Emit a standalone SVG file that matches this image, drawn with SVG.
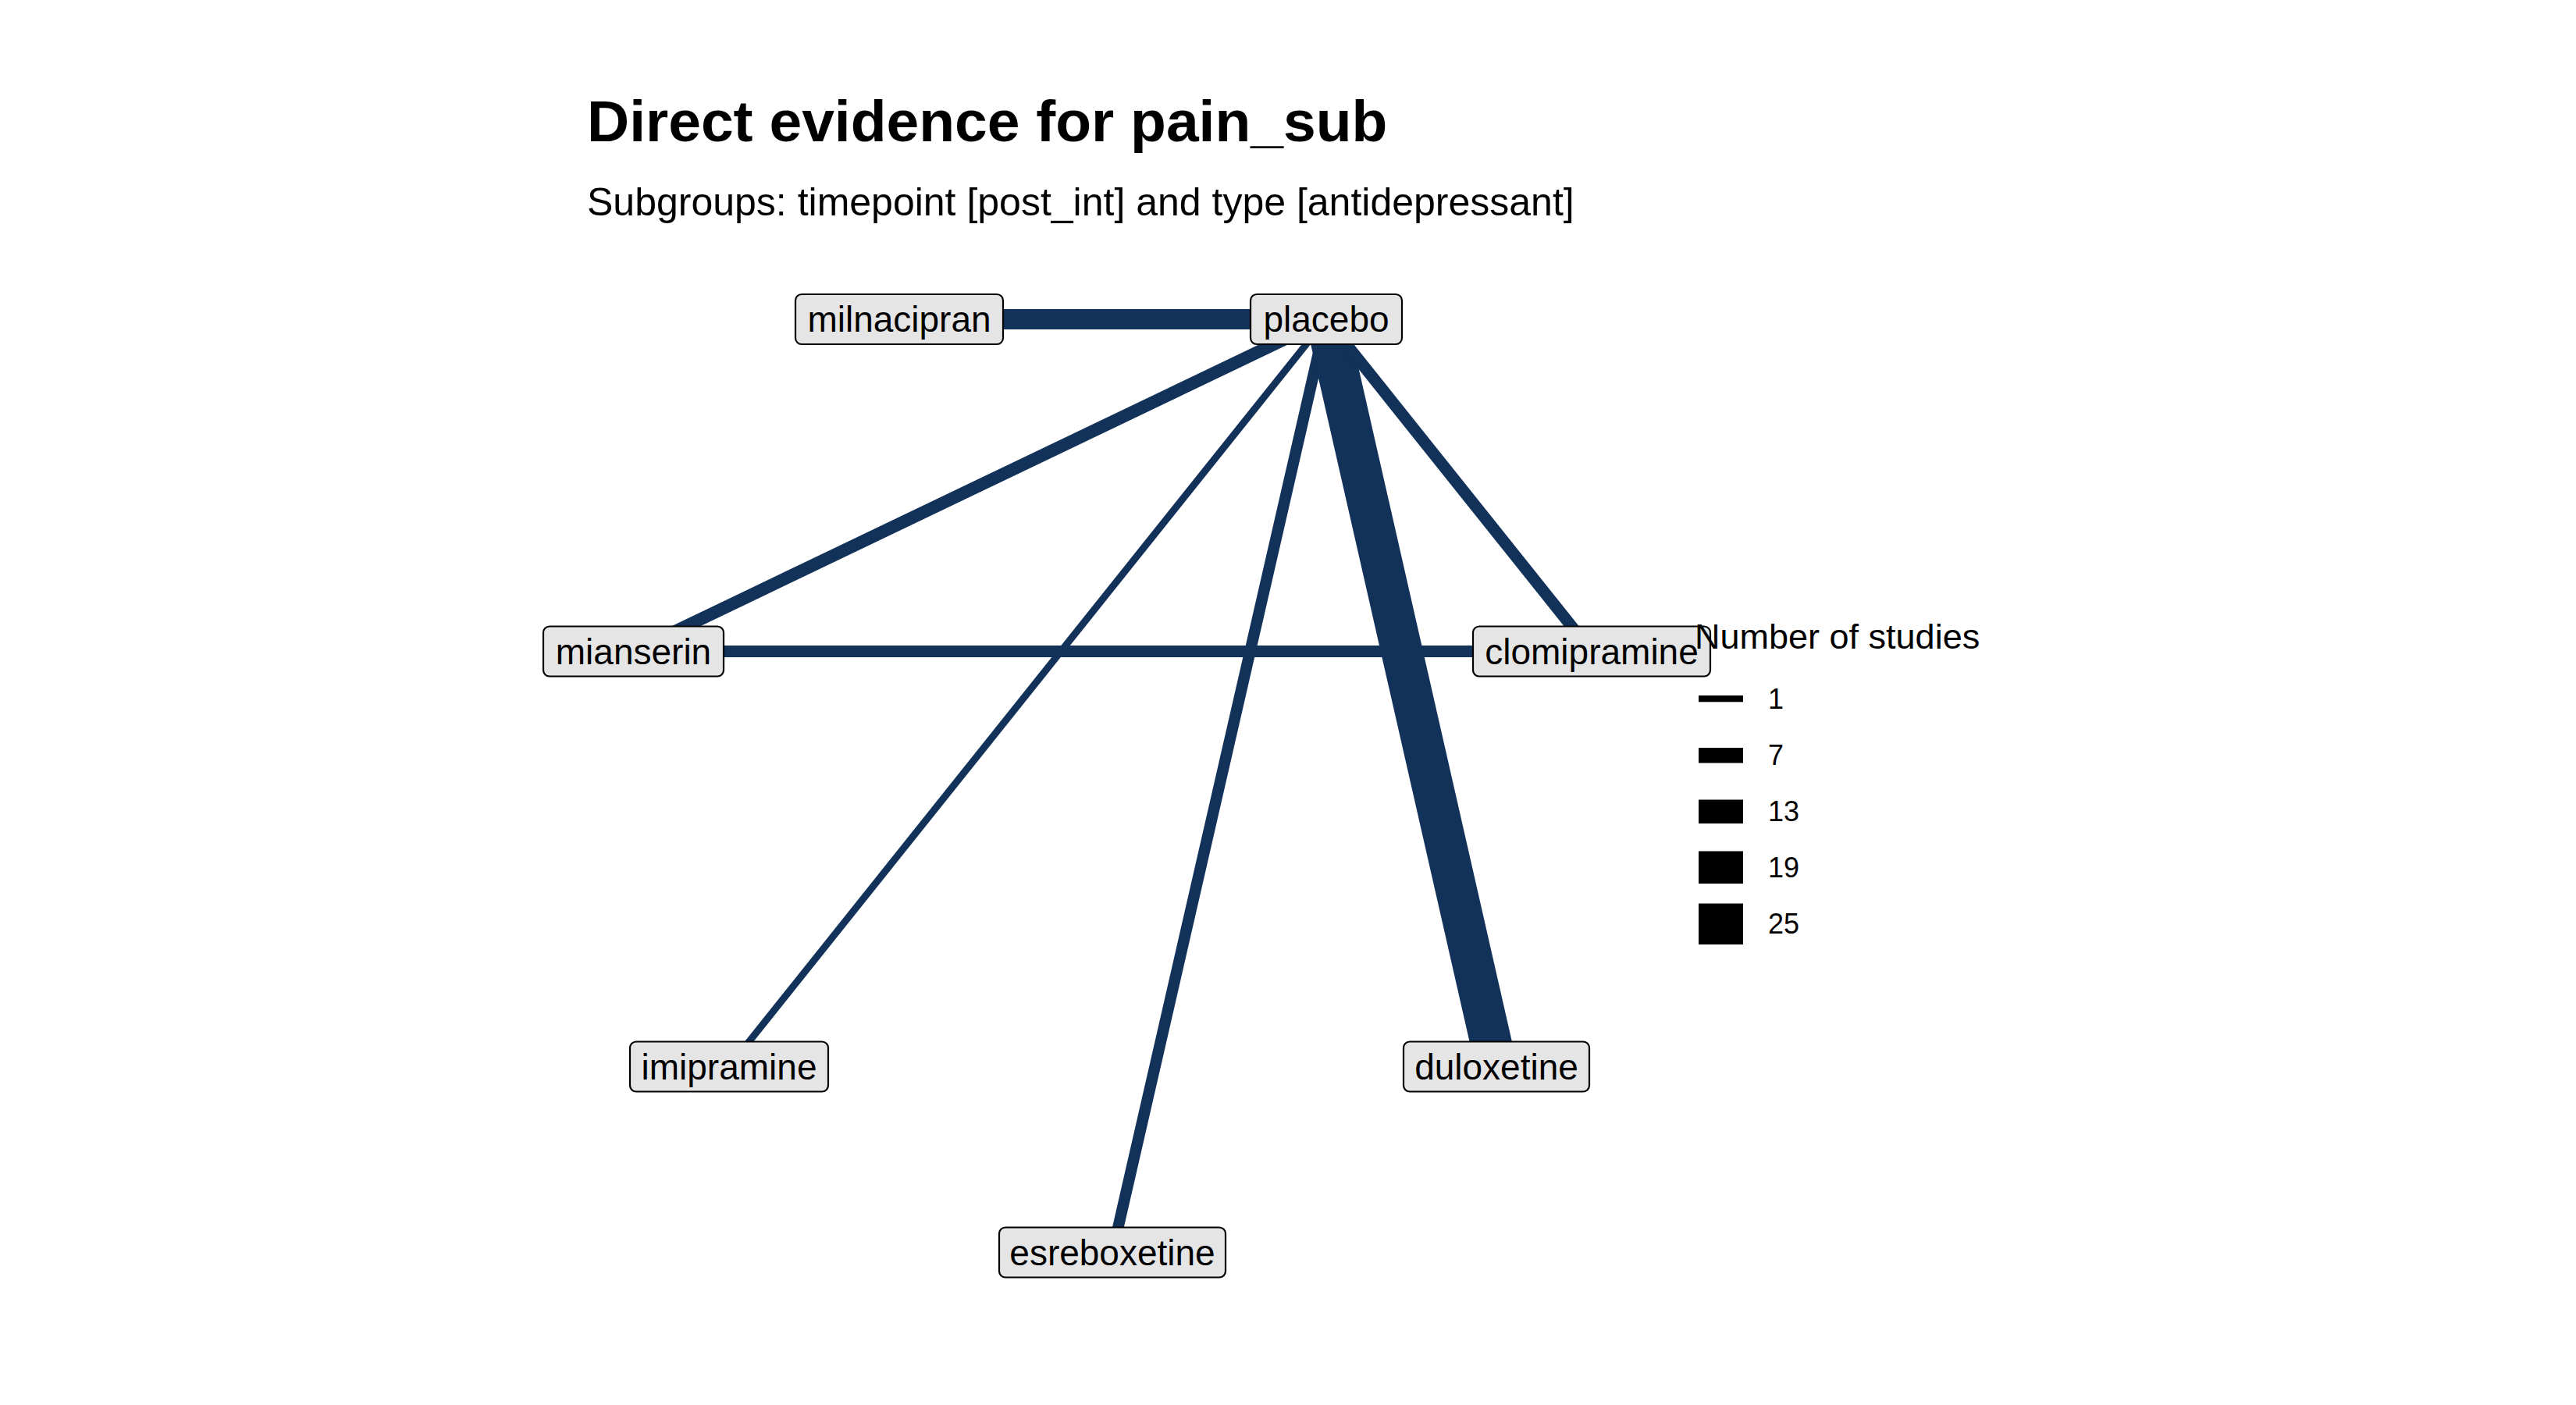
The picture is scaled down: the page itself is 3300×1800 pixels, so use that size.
<svg xmlns="http://www.w3.org/2000/svg" width="3300" height="1800" viewBox="0 0 3300 1800">
<style>
.edge{stroke:#13325A;stroke-linecap:butt;fill:none}
.box{fill:#E5E5E5;stroke:#000;stroke-width:2.2}
.lbl{font-family:"Liberation Sans",Arial,sans-serif;font-size:46px;fill:#000;text-anchor:middle}
.title{font-family:"Liberation Sans",Arial,sans-serif;font-size:75px;font-weight:bold;fill:#000}
.sub{font-family:"Liberation Sans",Arial,sans-serif;font-size:50px;fill:#000}
.lgt{font-family:"Liberation Sans",Arial,sans-serif;font-size:45px;fill:#000}
.lgl{font-family:"Liberation Sans",Arial,sans-serif;font-size:36px;fill:#000}
</style>
<rect width="3300" height="1800" fill="#fff"/>
<text class="title" x="752" y="181">Direct evidence for pain_sub</text>
<text class="sub" x="752" y="276">Subgroups: timepoint [post_int] and type [antidepressant]</text>
<g id="connectors">
<line class="edge" x1="1699" y1="409" x2="1152" y2="409" stroke-width="26"/>
<line class="edge" x1="1699" y1="409" x2="811.5" y2="834.5" stroke-width="16"/>
<line class="edge" x1="1699" y1="409" x2="934" y2="1366.5" stroke-width="9"/>
<line class="edge" x1="1699" y1="409" x2="1425" y2="1604.5" stroke-width="14.5"/>
<line class="edge" x1="1699" y1="409" x2="1917" y2="1366.5" stroke-width="53"/>
<line class="edge" x1="1699" y1="409" x2="2039" y2="834.5" stroke-width="15"/>
<line class="edge" x1="811.5" y1="834.5" x2="2039" y2="834.5" stroke-width="15"/>
</g>
<g id="node-milnacipran">
<rect class="box" x="1019" y="377" width="266" height="64" rx="8"/>
<text class="lbl" x="1152" y="425">milnacipran</text>
</g>
<g id="node-placebo">
<rect class="box" x="1602" y="377" width="194" height="64" rx="8"/>
<text class="lbl" x="1699" y="425">placebo</text>
</g>
<g id="node-mianserin">
<rect class="box" x="696" y="802.5" width="231" height="64" rx="8"/>
<text class="lbl" x="811.5" y="850.5">mianserin</text>
</g>
<g id="node-clomipramine">
<rect class="box" x="1887" y="802.5" width="304" height="64" rx="8"/>
<text class="lbl" x="2039" y="850.5">clomipramine</text>
</g>
<g id="node-imipramine">
<rect class="box" x="807" y="1334.5" width="254" height="64" rx="8"/>
<text class="lbl" x="934" y="1382.5">imipramine</text>
</g>
<g id="node-duloxetine">
<rect class="box" x="1798" y="1334.5" width="238" height="64" rx="8"/>
<text class="lbl" x="1917" y="1382.5">duloxetine</text>
</g>
<g id="node-esreboxetine">
<rect class="box" x="1280" y="1572.5" width="290" height="64" rx="8"/>
<text class="lbl" x="1425" y="1620.5">esreboxetine</text>
</g>
<g id="legend">
<text class="lgt" x="2171" y="831">Number of studies</text>
<rect x="2176" y="891" width="57" height="8.3" fill="#000"/>
<rect x="2176" y="958" width="57" height="19.5" fill="#000"/>
<rect x="2176" y="1024.5" width="57" height="30.5" fill="#000"/>
<rect x="2176" y="1090.5" width="57" height="41.5" fill="#000"/>
<rect x="2176" y="1157.5" width="57" height="52.5" fill="#000"/>
<text class="lgl" x="2265" y="908">1</text>
<text class="lgl" x="2265" y="980">7</text>
<text class="lgl" x="2265" y="1052">13</text>
<text class="lgl" x="2265" y="1124">19</text>
<text class="lgl" x="2265" y="1196">25</text>
</g>
</svg>
